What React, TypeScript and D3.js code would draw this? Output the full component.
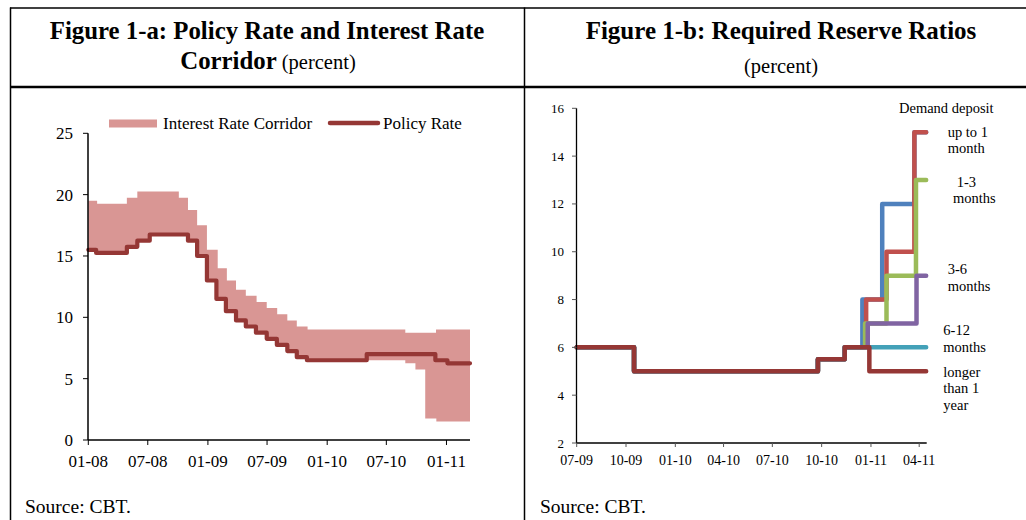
import React from "react";
import * as d3 from "d3";

const W = 1026;
const H = 520;
const FONT = '"Liberation Serif","Times New Roman",Times,serif';

// ---------- Figure 1-a data ----------
const policyDates = ["2008-01-01","2008-01-25","2008-04-28","2008-05-30","2008-07-07","2008-11-01","2008-11-29","2008-12-29","2009-01-27","2009-02-25","2009-03-28","2009-04-27","2009-05-28","2009-06-30","2009-07-31","2009-09-01","2009-09-30","2009-10-31","2010-05-02","2010-11-28","2011-01-04","2011-03-14"];
const policyValues = [15.5,15.25,15.75,16.25,16.75,16.25,15.0,13.0,11.5,10.5,9.75,9.25,8.75,8.25,7.75,7.25,6.75,6.5,7.0,6.5,6.25,6.25];

const corridorDates = ["2008-01-01","2008-01-25","2008-01-28","2008-04-28","2008-05-30","2008-07-07","2008-10-04","2008-11-01","2008-11-29","2008-12-29","2009-01-27","2009-01-31","2009-02-25","2009-02-28","2009-03-28","2009-04-27","2009-05-28","2009-05-30","2009-06-30","2009-07-31","2009-08-01","2009-09-01","2009-09-30","2009-10-31","2009-11-02","2010-08-28","2010-09-28","2010-10-28","2010-11-30","2010-12-01","2011-03-14"];
const corridorLow = [15.5,15.25,15.25,15.75,16.25,16.75,16.75,16.25,15.0,13.0,11.5,11.5,10.5,10.5,9.75,9.25,8.75,8.75,8.25,7.75,7.75,7.25,6.75,6.5,6.5,6.25,5.75,1.75,1.75,1.5,1.5];
const corridorHigh = [19.5,19.5,19.25,19.75,20.25,20.25,19.75,18.75,17.5,15.5,15.5,14.0,14.0,13.0,12.25,11.75,11.75,11.25,10.75,10.75,10.25,9.75,9.25,9.25,9.0,8.75,8.75,8.75,9.0,9.0,9.0];

const leftYTicks = [0, 5, 10, 15, 20, 25];
const leftLegend = ["Interest Rate Corridor", "Policy Rate"];

// ---------- Figure 1-b data ----------
const rrDemandDates = ["2009-07-01","2009-10-16","2010-09-24","2010-11-13","2010-12-16","2011-01-22","2011-03-23","2011-04-14"];
const rrDemandValues = [6,5,5.5,6,8,12,15,15];
const rrUpTo1Dates = ["2009-07-01","2009-10-16","2010-09-24","2010-11-13","2010-12-23","2011-01-30","2011-03-23","2011-04-14"];
const rrUpTo1Values = [6,5,5.5,6,8,10,15,15];
const rr1to3Dates = ["2009-07-01","2009-10-16","2010-09-24","2010-11-13","2010-12-21","2011-01-30","2011-03-26","2011-04-14"];
const rr1to3Values = [6,5,5.5,6,7,9,13,13];
const rr3to6Dates = ["2009-07-01","2009-10-16","2010-09-24","2010-11-13","2010-12-26","2011-03-27","2011-04-14"];
const rr3to6Values = [6,5,5.5,6,7,9,9];
const rr6to12Dates = ["2009-07-01","2009-10-16","2010-09-24","2010-11-13","2011-04-14"];
const rr6to12Values = [6,5,5.5,6,6];
const rrLongerDates = ["2009-07-01","2009-10-16","2010-09-24","2010-11-13","2010-12-29","2011-04-14"];
const rrLongerValues = [6,5,5.5,6,5,5];

const rightYTicks = [2, 4, 6, 8, 10, 12, 14, 16];

const parse = d3.timeParse("%Y-%m-%d");
const fmt = d3.timeFormat("%m-%y");

type Pt = { d: Date; v: number };
const zip = (ds: string[], vs: number[]): Pt[] => ds.map((s, i) => ({ d: parse(s) as Date, v: vs[i] }));

export default function App() {
  // ---------- left chart scales ----------
  const lx = d3.scaleTime().domain([parse("2008-01-01") as Date, parse("2011-03-14") as Date]).range([88.3, 470]);
  const ly = d3.scaleLinear().domain([0, 25]).range([440, 133.3]);
  const lxTicks = lx.ticks(d3.timeMonth.every(6) as any);

  const policy = zip(policyDates, policyValues);
  const corridor = corridorDates.map((s, i) => ({ d: parse(s) as Date, lo: corridorLow[i], hi: corridorHigh[i] }));

  const corridorArea = d3
    .area<{ d: Date; lo: number; hi: number }>()
    .x((p) => lx(p.d))
    .y0((p) => ly(p.lo))
    .y1((p) => ly(p.hi))
    .curve(d3.curveStepAfter)(corridor) as string;
  const policyLine = d3
    .line<Pt>()
    .x((p) => lx(p.d))
    .y((p) => ly(p.v))
    .curve(d3.curveStepAfter)(policy) as string;

  // ---------- right chart scales ----------
  const rx = d3.scaleTime().domain([parse("2009-07-01") as Date, parse("2011-04-15") as Date]).range([576.7, 926.7]);
  const ry = d3.scaleLinear().domain([2, 16]).range([443, 108.3]);
  const rxTicks = rx.ticks(d3.timeMonth.every(3) as any);

  const rrLine = d3
    .line<Pt>()
    .x((p) => rx(p.d))
    .y((p) => ry(p.v))
    .curve(d3.curveStepAfter);

  const rrSeries = [
    { key: "demand", color: "#4F81BD", pts: zip(rrDemandDates, rrDemandValues) },
    { key: "upto1", color: "#C0504D", pts: zip(rrUpTo1Dates, rrUpTo1Values) },
    { key: "m1to3", color: "#9BBB59", pts: zip(rr1to3Dates, rr1to3Values) },
    { key: "m3to6", color: "#8064A2", pts: zip(rr3to6Dates, rr3to6Values) },
    { key: "m6to12", color: "#43A1B8", pts: zip(rr6to12Dates, rr6to12Values) },
    { key: "longer", color: "#953735", pts: zip(rrLongerDates, rrLongerValues) },
  ];

  const rLabels: { x: number; y: number; lines: string[] }[] = [
    { x: 899, y: 113.3, lines: ["Demand deposit"] },
    { x: 947.7, y: 136.7, lines: ["up to 1", "month"] },
    { x: 953, y: 186.7, lines: [" 1-3", "months"] },
    { x: 947.7, y: 274, lines: ["3-6", "months"] },
    { x: 943.3, y: 335, lines: ["6-12", "months"] },
    { x: 943.3, y: 376.7, lines: ["longer", "than 1", "year"] },
  ];

  const bandColor = "#D99694";
  const policyColor = "#953735";

  return (
    <svg
      width={W}
      height={H}
      viewBox={`0 0 ${W} ${H}`}
      style={{ position: "absolute", left: 0, top: 0, background: "#fff", fontFamily: FONT }}
    >
      <rect x={0} y={0} width={W} height={H} fill="#fff" />
      {/* frame */}
      <line x1={10} x2={W} y1={8} y2={8} stroke="#000" strokeWidth={1.5} />
      <line x1={10} x2={W} y1={87} y2={87} stroke="#000" strokeWidth={2.5} />
      <line x1={10.5} x2={10.5} y1={7.5} y2={H} stroke="#000" strokeWidth={1.5} />
      <line x1={524.5} x2={524.5} y1={7.5} y2={H} stroke="#000" strokeWidth={1.5} />

      {/* titles */}
      <text x={267} y={39} textAnchor="middle" fontSize={24.8} fontWeight="bold" fill="#000">
        Figure 1-a: Policy Rate and Interest Rate
      </text>
      <text x={268} y={69} textAnchor="middle" fontSize={24.8} fill="#000">
        <tspan fontWeight="bold">Corridor</tspan>
        <tspan fontSize={20.5}> (percent)</tspan>
      </text>
      <text x={781} y={39} textAnchor="middle" fontSize={25} fontWeight="bold" fill="#000">
        Figure 1-b: Required Reserve Ratios
      </text>
      <text x={781} y={73} textAnchor="middle" fontSize={20.5} fill="#000">
        (percent)
      </text>

      {/* ---------- left chart ---------- */}
      <path d={corridorArea} fill={bandColor} stroke="none" />
      <path d={policyLine} fill="none" stroke={policyColor} strokeWidth={4.2} strokeLinejoin="round" strokeLinecap="round" />

      <line x1={88} x2={88} y1={ly(25)} y2={ly(0)} stroke="#000" strokeWidth={1.5} />
      <line x1={88} x2={470} y1={ly(0)} y2={ly(0)} stroke="#000" strokeWidth={1.5} />
      {leftYTicks.map((t) => (
        <g key={`ly${t}`}>
          <line x1={83} x2={88} y1={ly(t)} y2={ly(t)} stroke="#000" strokeWidth={1} />
          <text x={73} y={ly(t) + 6} textAnchor="end" fontSize={17} fill="#000">
            {t}
          </text>
        </g>
      ))}
      {lxTicks.map((t) => (
        <g key={`lx${+t}`}>
          <line x1={lx(t)} x2={lx(t)} y1={ly(0)} y2={ly(0) + 5} stroke="#000" strokeWidth={1} />
          <text x={lx(t)} y={467} textAnchor="middle" fontSize={17} fill="#000">
            {fmt(t)}
          </text>
        </g>
      ))}

      {/* left legend */}
      <rect x={109} y={119.5} width={48} height={8} fill={bandColor} />
      <text x={163} y={129} fontSize={17} fill="#000">
        {leftLegend[0]}
      </text>
      <line x1={330} x2={378} y1={123} y2={123} stroke={policyColor} strokeWidth={4.5} strokeLinecap="round" />
      <text x={383} y={129} fontSize={17} fill="#000">
        {leftLegend[1]}
      </text>

      <text x={25} y={513} fontSize={19.5} fill="#000">
        Source: CBT.
      </text>

      {/* ---------- right chart ---------- */}
      {rrSeries.map((s) => (
        <path
          key={s.key}
          d={rrLine(s.pts) as string}
          fill="none"
          stroke={s.color}
          strokeWidth={4.5}
          strokeLinejoin="round"
          strokeLinecap="round"
        />
      ))}
      <line x1={576.5} x2={576.5} y1={ry(16)} y2={ry(2)} stroke="#000" strokeWidth={1.3} />
      <line x1={576.5} x2={926.7} y1={ry(2)} y2={ry(2)} stroke="#000" strokeWidth={1.3} />
      {rightYTicks.map((t) => (
        <g key={`ry${t}`}>
          <line x1={572} x2={576.5} y1={ry(t)} y2={ry(t)} stroke="#555" strokeWidth={1} />
          <text x={564} y={ry(t) + 4.5} textAnchor="end" fontSize={13} fill="#000">
            {t}
          </text>
        </g>
      ))}
      {rxTicks.map((t) => (
        <g key={`rx${+t}`}>
          <line x1={rx(t)} x2={rx(t)} y1={ry(2)} y2={ry(2) + 4} stroke="#555" strokeWidth={1} />
          <text x={rx(t)} y={465} textAnchor="middle" fontSize={14} fill="#000">
            {fmt(t)}
          </text>
        </g>
      ))}
      {rLabels.map((l, i) => (
        <text key={`rl${i}`} x={l.x} y={l.y} fontSize={14.5} fill="#000" style={{ whiteSpace: "pre" }}>
          {l.lines.map((ln, j) => (
            <tspan key={j} x={l.x} dy={j === 0 ? 0 : 16.5}>
              {ln}
            </tspan>
          ))}
        </text>
      ))}

      <text x={540} y={513} fontSize={19.5} fill="#000">
        Source: CBT.
      </text>
    </svg>
  );
}
